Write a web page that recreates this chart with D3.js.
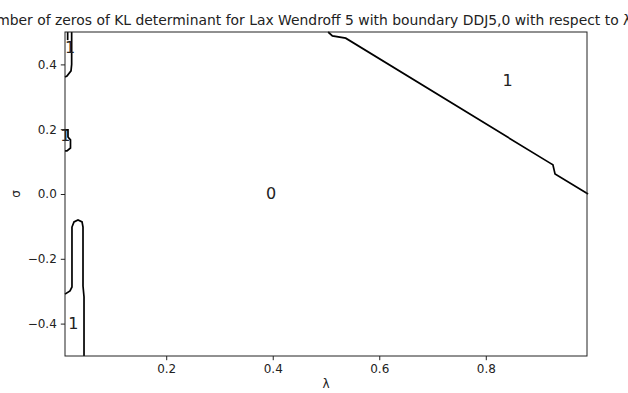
<!DOCTYPE html>
<html>
<head>
<meta charset="utf-8">
<script src="https://d3js.org/d3.v7.min.js"></script>
<style>
  body { margin: 0; background: white; }
  text { font-family: "DejaVu Sans", sans-serif; }
</style>
</head>
<body>
<div id="container"></div>
<script type="text/javascript">

var width = 628, height = 393;
var margin = {left: 65, right: 41, top: 32, bottom: 37};

var titleText = "Number of zeros of KL determinant for Lax Wendroff 5 with boundary DDJ5,0 with respect to \u03bb and \u03c3";
var xTicks = [0.2, 0.4, 0.6, 0.8];
var yTicks = [-0.4, -0.2, 0.0, 0.2, 0.4];

// contour lines, [lambda, sigma]
var diagLine = [[0.504, 0.5], [0.512, 0.488], [0.537, 0.481], [0.920, 0.096], [0.926, 0.090], [0.930, 0.062], [0.992, 0.0]];
var topLeftLine = [[0.01, 0.361], [0.0137, 0.364], [0.0213, 0.380], [0.0225, 0.40], [0.0225, 0.5]];
var topLeftInner = [[0.015, 0.5], [0.015, 0.475]];
var midLeftLine = [[0.01, 0.198], [0.0156, 0.198], [0.0156, 0.176], [0.0203, 0.167], [0.0203, 0.142], [0.0137, 0.133], [0.01, 0.133]];
var lowLeftLine = [[0.01, -0.309], [0.0194, -0.299], [0.0231, -0.287], [0.0231, -0.102], [0.0269, -0.086], [0.0344, -0.080],
                   [0.042, -0.086], [0.0438, -0.102], [0.0438, -0.284], [0.0457, -0.318], [0.0457, -0.5]];

var levelLabels = [
  {text: "1", x: 0.841, y: 0.35},
  {text: "0", x: 0.397, y: 0.003},
  {text: "1", x: 0.0195, y: 0.452},
  {text: "1", x: 0.0105, y: 0.18},
  {text: "1", x: 0.0255, y: -0.398}
];

var svg = d3.select('#container')
  .append('svg')
  .attr('width', width)
  .attr('height', height)
  .style('background-color', 'white');

var x = d3.scaleLinear().domain([0.01, 0.99]).range([margin.left, width - margin.right]);
var y = d3.scaleLinear().domain([-0.5, 0.5]).range([height - margin.bottom, margin.top]);

var line = d3.line().x(d => x(d[0])).y(d => y(d[1]));

var plot = svg.append('g');
[diagLine, topLeftLine, topLeftInner, midLeftLine, lowLeftLine].forEach(function(pts){
  plot.append('path')
    .attr('d', line(pts))
    .attr('fill', 'none')
    .attr('stroke', 'black')
    .attr('stroke-width', 1.7);
});

plot.selectAll('text.lab')
  .data(levelLabels)
  .enter()
  .append('text')
  .attr('class', 'lab')
  .attr('x', d => x(d.x))
  .attr('y', d => y(d.y))
  .attr('dy', '0.36em')
  .attr('text-anchor', 'middle')
  .style('font-size', '16px')
  .style('fill', '#222')
  .text(d => d.text);

var fmt = d => d3.format('.1f')(d).replace('-', '\u2212');

var xAxis = svg.append('g')
  .attr('transform', 'translate(0,' + (height - margin.bottom) + ')')
  .call(d3.axisBottom(x).tickValues(xTicks).tickFormat(fmt).tickSize(4.2).tickPadding(4));
var yAxis = svg.append('g')
  .attr('transform', 'translate(' + margin.left + ',0)')
  .call(d3.axisLeft(y).tickValues(yTicks).tickFormat(fmt).tickSize(4.2).tickPadding(4));

[xAxis, yAxis].forEach(function(a){
  a.select('.domain').remove();
  a.selectAll('text').style('font-size', '12px').style('font-family', '"DejaVu Sans", sans-serif').attr('fill', '#222');
  a.selectAll('line').attr('stroke', '#222').attr('stroke-width', 1);
});

svg.append('rect')
  .attr('x', margin.left)
  .attr('y', margin.top)
  .attr('width', width - margin.left - margin.right)
  .attr('height', height - margin.top - margin.bottom)
  .attr('fill', 'none')
  .attr('stroke', '#222')
  .attr('stroke-width', 1);

// title is wider than the figure, clipped at both sides as in the original
svg.append('text')
  .attr('x', (margin.left + width - margin.right) / 2)
  .attr('y', margin.top - 7)
  .attr('text-anchor', 'middle')
  .style('font-size', '13.9px')
  .style('fill', '#222')
  .text(titleText);

svg.append('text')
  .attr('x', (margin.left + width - margin.right) / 2)
  .attr('y', height - 5)
  .attr('text-anchor', 'middle')
  .style('font-size', '12px')
  .style('fill', '#222')
  .text('\u03bb');

svg.append('text')
  .attr('transform', 'translate(20,' + ((margin.top + height - margin.bottom) / 2) + ') rotate(-90)')
  .attr('text-anchor', 'middle')
  .style('font-size', '12px')
  .style('fill', '#222')
  .text('\u03c3');

</script>
</body>
</html>
